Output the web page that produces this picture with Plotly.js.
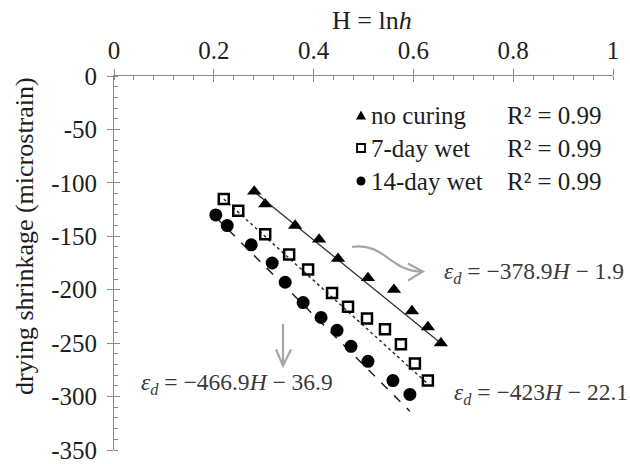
<!DOCTYPE html>
<html>
<head>
<meta charset="utf-8">
<script src="https://cdn.plot.ly/plotly-3.0.1.min.js"></script>
<style>html,body{margin:0;padding:0;background:#fff;}#chart{width:630px;height:464px;}</style>
</head>
<body>
<div id="chart"></div>
<script>
// ---- data ----
const seriesNames = ["no curing", "7-day wet", "14-day wet"];
const rSquared = ["0.99", "0.99", "0.99"];
const H_noCuring = [0.281, 0.303, 0.363, 0.411, 0.449, 0.509, 0.561, 0.597, 0.629, 0.655];
const eps_noCuring = [-108, -120, -140, -153, -171, -189, -200, -220, -235, -250];
const H_7day = [0.220, 0.249, 0.303, 0.351, 0.389, 0.437, 0.469, 0.507, 0.543, 0.575, 0.603, 0.629];
const eps_7day = [-115, -126, -148, -167, -181, -203, -216, -227, -237, -251, -269, -285];
const H_14day = [0.204, 0.227, 0.275, 0.317, 0.343, 0.379, 0.415, 0.447, 0.475, 0.509, 0.559, 0.593];
const eps_14day = [-130, -140, -158, -175, -193, -212, -226, -238, -253, -267, -285, -298];
// trendline coefficients (slope, intercept)
const fit_noCuring = [-378.9, -1.9];
const fit_7day = [-423, -22.1];
const fit_14day = [-466.9, -36.9];
const eqTexts = [
  "<i>ε<sub>d</sub></i> = −378.9<i>H</i> − 1.9",
  "<i>ε<sub>d</sub></i> = −423<i>H</i> − 22.1",
  "<i>ε<sub>d</sub></i> = −466.9<i>H</i> − 36.9"
];
const xTickVals = [0, 0.2, 0.4, 0.6, 0.8, 1];
const xTickText = ["0", "0.2", "0.4", "0.6", "0.8", "1"];
const yTickVals = [0, -50, -100, -150, -200, -250, -300, -350];
const yTickText = ["0", "-50", "-100", "-150", "-200", "-250", "-300", "-350"];

// ---- layout geometry ----
const W = 630, Hh = 464;
const mL = 114, mR = 17, mT = 76, mB = 14;
const pw = W - mL - mR, ph = Hh - mT - mB;
const px2x = p => (p - mL) / pw;          // paper coords
const py2y = p => 1 - (p - mT) / ph;

const FONT = "Liberation Serif";
const axisCol = "#8a8a8a";
const txtCol = "#1e1e1e";

function fitLine(xs, coef) {
  const x0 = Math.min(...xs), x1 = Math.max(...xs);
  return {x: [x0, x1], y: [coef[0] * x0 + coef[1], coef[0] * x1 + coef[1]]};
}
const l1 = fitLine(H_noCuring, fit_noCuring);
const l2 = fitLine(H_7day, fit_7day);
const l3 = fitLine(H_14day, fit_14day);

const traces = [
  {x: l1.x, y: l1.y, mode: "lines", line: {color: "#333", width: 1.3}, showlegend: false, hoverinfo: "skip"},
  {x: l2.x, y: l2.y, mode: "lines", line: {color: "#333", width: 1.5, dash: "dot"}, showlegend: false, hoverinfo: "skip"},
  {x: l3.x, y: l3.y, mode: "lines", line: {color: "#222", width: 1.5, dash: "dash"}, showlegend: false, hoverinfo: "skip"},
  {x: H_noCuring, y: eps_noCuring, name: seriesNames[0], mode: "markers",
   marker: {symbol: "triangle-up", size: 12.5, color: "#000"}},
  {x: H_7day, y: eps_7day, name: seriesNames[1], mode: "markers",
   marker: {symbol: "square-open", size: 10, color: "#000", line: {width: 2.5, color: "#000"}}},
  {x: H_14day, y: eps_14day, name: seriesNames[2], mode: "markers",
   marker: {symbol: "circle", size: 13, color: "#000"}},
  // overlay axes for crossing ticks
  {x: [0], y: [0], xaxis: "x2", yaxis: "y2", mode: "markers", marker: {opacity: 0}, showlegend: false, hoverinfo: "skip"}
];

const baseAxis = {
  showgrid: false, zeroline: false, showline: true, linecolor: axisCol, linewidth: 1,
  tickcolor: axisCol, tickwidth: 1, tickfont: {family: FONT, size: 25, color: txtCol},
  ticklabeloverflow: "allow"
};

const layout = {
  width: W, height: Hh,
  margin: {l: mL, r: mR, t: mT, b: mB, pad: 0},
  paper_bgcolor: "#fff", plot_bgcolor: "#fff",
  showlegend: false,
  xaxis: Object.assign({}, baseAxis, {
    side: "top", range: [0, 1], tickmode: "array", tickvals: xTickVals, ticktext: xTickText,
    ticks: "outside", ticklen: 6, ticklabelstandoff: 0,
    minor: {dtick: 0.04, tick0: 0, ticks: "inside", ticklen: 4, tickcolor: axisCol, tickwidth: 1}
  }),
  yaxis: Object.assign({}, baseAxis, {
    range: [-350, 0], tickmode: "array", tickvals: yTickVals, ticktext: yTickText,
    ticks: "outside", ticklen: 6, ticklabelstandoff: 5,
    minor: {dtick: 10, tick0: 0, ticks: "inside", ticklen: 4, tickcolor: axisCol, tickwidth: 1}
  }),
  xaxis2: {overlaying: "x", matches: "x", side: "top", range: [0, 1], showgrid: false, zeroline: false,
    showline: false, showticklabels: false, tickmode: "array", tickvals: xTickVals,
    ticks: "inside", ticklen: 6, tickcolor: axisCol, tickwidth: 1},
  yaxis2: {overlaying: "y", matches: "y", range: [-350, 0], showgrid: false, zeroline: false,
    showline: false, showticklabels: false, tickmode: "array", tickvals: yTickVals,
    ticks: "inside", ticklen: 6, tickcolor: axisCol, tickwidth: 1},
  annotations: [],
  shapes: []
};

// axis titles
layout.annotations.push({
  xref: "paper", yref: "paper", x: px2x(372), y: py2y(20), xanchor: "center", yanchor: "middle",
  text: "H = ln<i>h</i>", showarrow: false, font: {family: FONT, size: 26, color: txtCol}
});
layout.annotations.push({
  xref: "paper", yref: "paper", x: px2x(25), y: py2y(236), xanchor: "center", yanchor: "middle",
  textangle: -90, text: "drying shrinkage (microstrain)", showarrow: false,
  font: {family: FONT, size: 26, color: txtCol}
});

// legend (custom)
const legRows = [115, 148, 181];
seriesNames.forEach((n, i) => {
  layout.annotations.push({xref: "paper", yref: "paper", x: px2x(369), y: py2y(legRows[i]),
    xanchor: "left", yanchor: "middle", text: n, showarrow: false,
    font: {family: FONT, size: 25, color: txtCol}});
  layout.annotations.push({xref: "paper", yref: "paper", x: px2x(505), y: py2y(legRows[i]),
    xanchor: "left", yanchor: "middle", text: "R² = " + rSquared[i], showarrow: false,
    font: {family: FONT, size: 25, color: txtCol}});
});
const sx = 361;
function P(px, py) { return px2x(px) + "," + py2y(py); }
layout.shapes.push({type: "path", xref: "paper", yref: "paper",
  path: "M" + P(sx - 5, legRows[0] + 4.5) + " L" + P(sx + 5, legRows[0] + 4.5) + " L" + P(sx, legRows[0] - 4.5) + " Z",
  fillcolor: "#000", line: {width: 0}});
layout.shapes.push({type: "rect", xref: "paper", yref: "paper",
  x0: px2x(sx - 4), x1: px2x(sx + 4), y0: py2y(legRows[1] + 4), y1: py2y(legRows[1] - 4),
  fillcolor: "#fff", line: {width: 1.8, color: "#000"}});
layout.shapes.push({type: "circle", xref: "paper", yref: "paper",
  x0: px2x(sx - 4.5), x1: px2x(sx + 4.5), y0: py2y(legRows[2] + 4.5), y1: py2y(legRows[2] - 4.5),
  fillcolor: "#000", line: {width: 0}});

// equation annotations
const eqFont = {family: FONT, size: 23.5, color: "#3a3a3a"};
layout.annotations.push({xref: "x", yref: "y", x: 0.657, y: -184, xanchor: "left", yanchor: "middle",
  text: eqTexts[0], showarrow: false, font: eqFont});
layout.annotations.push({xref: "x", yref: "y", x: 0.677, y: -298, xanchor: "left", yanchor: "middle",
  text: eqTexts[1], showarrow: false, font: eqFont});
layout.annotations.push({xref: "x", yref: "y", x: 0.443, y: -288, xanchor: "right", yanchor: "middle",
  text: eqTexts[2], showarrow: false, font: eqFont});

// gray arrows (decoration)
const arrowLine = {color: "#a6a6a6", width: 2.2};
layout.shapes.push({type: "path", xref: "x", yref: "y",
  path: "M0.477,-160 C0.543,-155.5 0.553,-183 0.617,-183", line: arrowLine});
layout.shapes.push({type: "path", xref: "x", yref: "y",
  path: "M0.589,-175.5 L0.619,-183 L0.589,-191.5", line: arrowLine});
layout.shapes.push({type: "path", xref: "x", yref: "y",
  path: "M0.3387,-232 L0.3387,-271", line: arrowLine});
layout.shapes.push({type: "path", xref: "x", yref: "y",
  path: "M0.3247,-256 L0.3387,-271 L0.3547,-256", line: arrowLine});

Plotly.newPlot("chart", traces, layout, {staticPlot: true, displayModeBar: false});
</script>
</body>
</html>
